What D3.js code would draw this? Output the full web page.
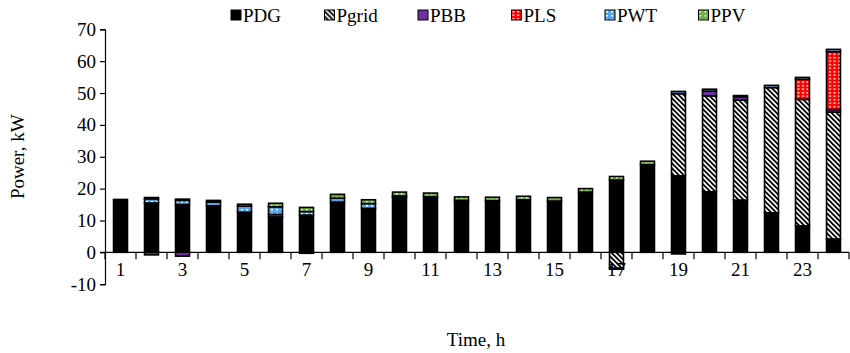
<!DOCTYPE html>
<html>
<head>
<meta charset="utf-8">
<script src="https://cdn.jsdelivr.net/npm/d3@7"></script>
<style>
  html, body { margin: 0; padding: 0; background: #fff; }
  svg text { font-family: "Liberation Serif", "Times New Roman", serif; fill: #000; }
</style>
</head>
<body>
<svg id="chart" width="850" height="353"></svg>
<script>
// Hourly power dispatch, kW
const hours = d3.range(1, 25);
const seriesNames = ["PDG", "Pgrid", "PBB", "PLS", "PWT", "PPV"];
const PDG   = [16.6, 15.5, 15.0, 14.6, 12.6, 11.1, 11.7, 15.8, 13.8, 17.3, 17.4, 16.3, 16.2, 16.5, 16.1, 18.9, 22.7, 27.5, 24.0, 19.0, 16.4, 12.4, 8.3, 4.2];
const Pgrid = [0, 0, 0, 0, 0, 0, 0, 0, 0, 0, 0, 0, 0, 0, 0, 0, -5.0, 0, 25.8, 30.1, 31.4, 39.3, 39.7, 39.8];
const PBB   = [0, -0.8, -1.2, 0, 0, 0.8, -0.3, 0, 0, 0, 0, 0, 0, 0, 0, 0, -0.3, 0, -0.5, 1.5, 1.0, 0, 0, 0.8];
const PLS   = [0, 0, 0, 0, 0, 0, 0, 0, 0, 0, 0, 0, 0, 0, 0, 0, 0, 0, 0, 0, 0, 0, 6.3, 18.2];
const PWT   = [0, 1.3, 1.3, 1.2, 1.9, 2.4, 1.1, 1.2, 1.5, 0.4, 0, 0, 0, 0, 0, 0, 0, 0, 0.7, 0.6, 0.4, 0.7, 0.6, 0.7];
const PPV   = [0, 0.4, 0.4, 0.5, 0.6, 1.1, 1.3, 1.2, 1.2, 1.2, 1.2, 1.1, 1.1, 1.1, 1.1, 1.1, 1.1, 1.1, 0, 0, 0, 0, 0, 0];
const yTicks = [-10, 0, 10, 20, 30, 40, 50, 60, 70];

const seriesValues = { PDG, Pgrid, PBB, PLS, PWT, PPV };
const table = hours.map((h, i) => {
  const row = { hour: h };
  seriesNames.forEach(s => { row[s] = seriesValues[s][i]; });
  return row;
});

const svg = d3.select("#chart");
const plotLeft = 105, plotRight = 849, plotTop = 29.3, plotBottom = 284.2;

const x = d3.scaleBand().domain(hours).range([plotLeft, plotRight]).paddingInner(0.55).paddingOuter(0.275);
const y = d3.scaleLinear().domain([-10, 70]).range([plotBottom, plotTop]);

// Fill patterns
const defs = svg.append("defs");
const t = 5, band = 2.4;
const hatch = defs.append("pattern").attr("id", "pat-grid")
  .attr("patternUnits", "userSpaceOnUse").attr("width", t).attr("height", t);
hatch.append("rect").attr("width", t).attr("height", t).attr("fill", "#000");
hatch.append("path")
  .attr("d", `M0,0L${band},0L${t},${t - band}L${t},${t}Z M0,${t - band}L${band},${t}L0,${t}Z`)
  .attr("fill", "#fff");

function dotPattern(id, color, w, h, dw, dh) {
  const p = defs.append("pattern").attr("id", id)
    .attr("patternUnits", "userSpaceOnUse").attr("width", w).attr("height", h);
  p.append("rect").attr("width", w).attr("height", h).attr("fill", color);
  p.append("rect").attr("x", 1).attr("y", 1).attr("width", dw).attr("height", dh).attr("fill", "#fff");
}
dotPattern("pat-ls", "#ff0000", 4.5, 3.5, 2, 1.4);
dotPattern("pat-wt", "#5ba3e6", 5, 4, 2, 1.5);
dotPattern("pat-pv", "#70ad47", 5, 4, 1.5, 1.5);

const fills = {
  PDG: "#000000",
  Pgrid: "url(#pat-grid)",
  PBB: "#7030a0",
  PLS: "url(#pat-ls)",
  PWT: "url(#pat-wt)",
  PPV: "url(#pat-pv)"
};

// Stacked bars, negatives stacking below zero
const stack = d3.stack().keys(seriesNames).offset(d3.stackOffsetDiverging);
const layers = stack(table);

svg.append("g").selectAll("g")
  .data(layers)
  .join("g")
  .attr("fill", d => fills[d.key])
  .selectAll("rect")
  .data(d => d.filter(p => p[1] !== p[0]))
  .join("rect")
  .attr("x", d => x(d.data.hour))
  .attr("width", x.bandwidth())
  .attr("y", d => y(Math.max(d[0], d[1])))
  .attr("height", d => Math.abs(y(d[0]) - y(d[1])))
  .attr("stroke", "#000")
  .attr("stroke-width", 1.6);

// Y axis
const yAxis = svg.append("g")
  .attr("transform", `translate(${plotLeft},0)`)
  .call(d3.axisLeft(y).tickValues(yTicks).tickSize(5).tickPadding(4).tickFormat(d => String(d)));
yAxis.selectAll("text").style("font-size", "19px");
yAxis.selectAll("line, path").attr("stroke", "#000").attr("stroke-width", 1.2);

// X axis along zero, ticks on category boundaries, labels on odd hours
const zeroY = y(0);
const xAxis = svg.append("g")
  .attr("transform", `translate(0,${zeroY})`)
  .call(d3.axisBottom(x).tickSize(0).tickPadding(10).tickFormat(h => h % 2 === 1 ? h : ""));
xAxis.select(".domain").remove();
xAxis.selectAll("text").style("font-size", "19px");
xAxis.append("line")
  .attr("x1", plotLeft - 5).attr("x2", plotRight)
  .attr("stroke", "#000").attr("stroke-width", 1.2);
const boundaries = hours.map(h => x(h) - x.step() * x.paddingInner() / 2).concat([plotRight]);
xAxis.selectAll("line.bound")
  .data(boundaries)
  .join("line")
  .attr("class", "bound")
  .attr("x1", d => d).attr("x2", d => d)
  .attr("y1", 0).attr("y2", 7)
  .attr("stroke", "#000").attr("stroke-width", 1.2);

// Axis titles
svg.append("text")
  .attr("x", (plotLeft + plotRight) / 2 - 1).attr("y", 346)
  .attr("text-anchor", "middle").style("font-size", "19px")
  .text("Time, h");
svg.append("text")
  .attr("transform", `translate(24,${(plotTop + plotBottom) / 2}) rotate(-90)`)
  .attr("text-anchor", "middle").style("font-size", "19px")
  .text("Power, kW");

// Legend
const legendX0 = 231, legendStep = 93.5, legendY = 10, sw = 10;
const legend = svg.append("g").selectAll("g")
  .data(seriesNames)
  .join("g")
  .attr("transform", (d, i) => `translate(${legendX0 + i * legendStep},${legendY})`);
legend.append("rect")
  .attr("width", sw).attr("height", sw)
  .attr("fill", d => fills[d])
  .attr("stroke", "#000").attr("stroke-width", 1);
legend.append("text")
  .attr("x", sw + 2).attr("y", sw / 2)
  .attr("dy", "0.36em")
  .style("font-size", "19px")
  .text(d => d);
</script>
</body>
</html>
